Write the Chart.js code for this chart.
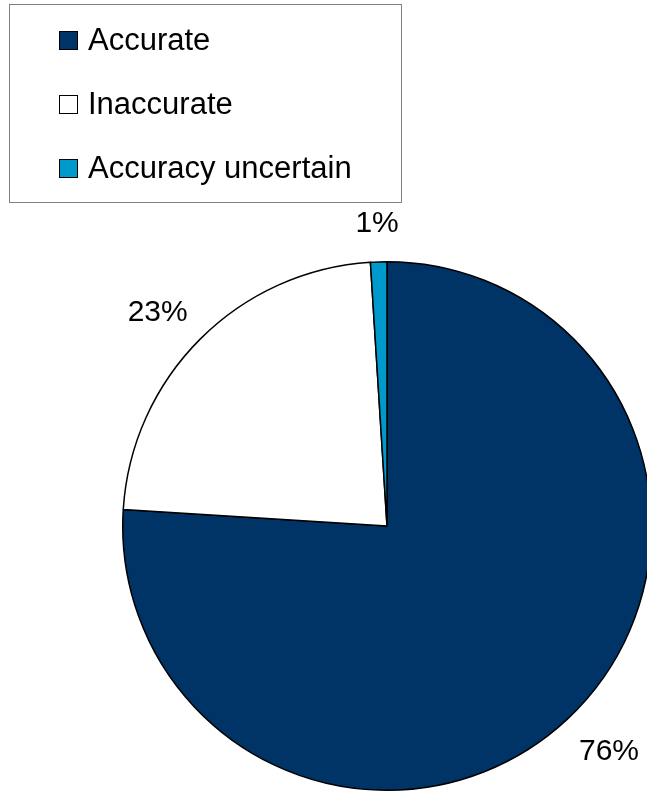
<!DOCTYPE html>
<html>
<head>
<meta charset="utf-8">
<script src="https://cdn.jsdelivr.net/npm/chart.js@4"></script>
<style>
html,body{margin:0;padding:0;background:#fff;overflow:hidden}
canvas{display:block}
</style>
</head>
<body>
<canvas id="pie" width="700" height="792"></canvas>
<script>
// data
const LABELS=['Accurate','Inaccurate','Accuracy uncertain'];
const VALUES=[76,23,1];
const COLORS=['#003366','#ffffff','#0099cc'];
const FONT='"Liberation Sans", Arial, sans-serif';

// percent labels just outside each slice
const pieLabels={id:'pieLabels',afterDatasetsDraw(chart){
  const ctx=chart.ctx, meta=chart.getDatasetMeta(0);
  const tot=VALUES.reduce((a,b)=>a+b,0);
  ctx.save();
  ctx.font='30px '+FONT; ctx.fillStyle='#000'; ctx.textAlign='center'; ctx.textBaseline='alphabetic';
  meta.data.forEach((arc,i)=>{
    const p=arc.getProps(['x','y','startAngle','endAngle','outerRadius'],true);
    const a=(p.startAngle+p.endAngle)/2, dx=Math.cos(a), dy=Math.sin(a);
    const txt=Math.round(VALUES[i]/tot*100)+'%';
    const w=ctx.measureText(txt).width, h=22, r=p.outerRadius+30;
    const cx=p.x+dx*r+dx*w/2, cy=p.y+dy*r+dy*h/2;
    ctx.fillText(txt,cx,cy+h/2);
  });
  ctx.restore();
}};

// boxed legend top-left
const boxLegend={id:'boxLegend',afterDraw(chart){
  const ctx=chart.ctx;
  ctx.save();
  ctx.strokeStyle='#808080'; ctx.lineWidth=1;
  ctx.strokeRect(9.5,4.5,392,198);
  ctx.font='31px '+FONT; ctx.textBaseline='alphabetic'; ctx.textAlign='left';
  LABELS.forEach((lb,i)=>{
    const base=50+i*64;
    ctx.fillStyle=COLORS[i]; ctx.fillRect(59,base-19,19,19);
    ctx.strokeStyle='#000'; ctx.strokeRect(59.5,base-18.5,18,18);
    ctx.fillStyle='#000'; ctx.fillText(lb,88,base);
  });
  ctx.restore();
}};

new Chart(document.getElementById('pie'),{
  type:'pie',
  data:{labels:LABELS,datasets:[{data:VALUES,backgroundColor:COLORS,borderColor:'#000',borderWidth:1.5}]},
  options:{
    responsive:false,animation:false,
    layout:{padding:{left:122,top:261,right:48,bottom:1}},
    plugins:{legend:{display:false},tooltip:{enabled:false}}
  },
  plugins:[pieLabels,boxLegend]
});
</script>
</body>
</html>
